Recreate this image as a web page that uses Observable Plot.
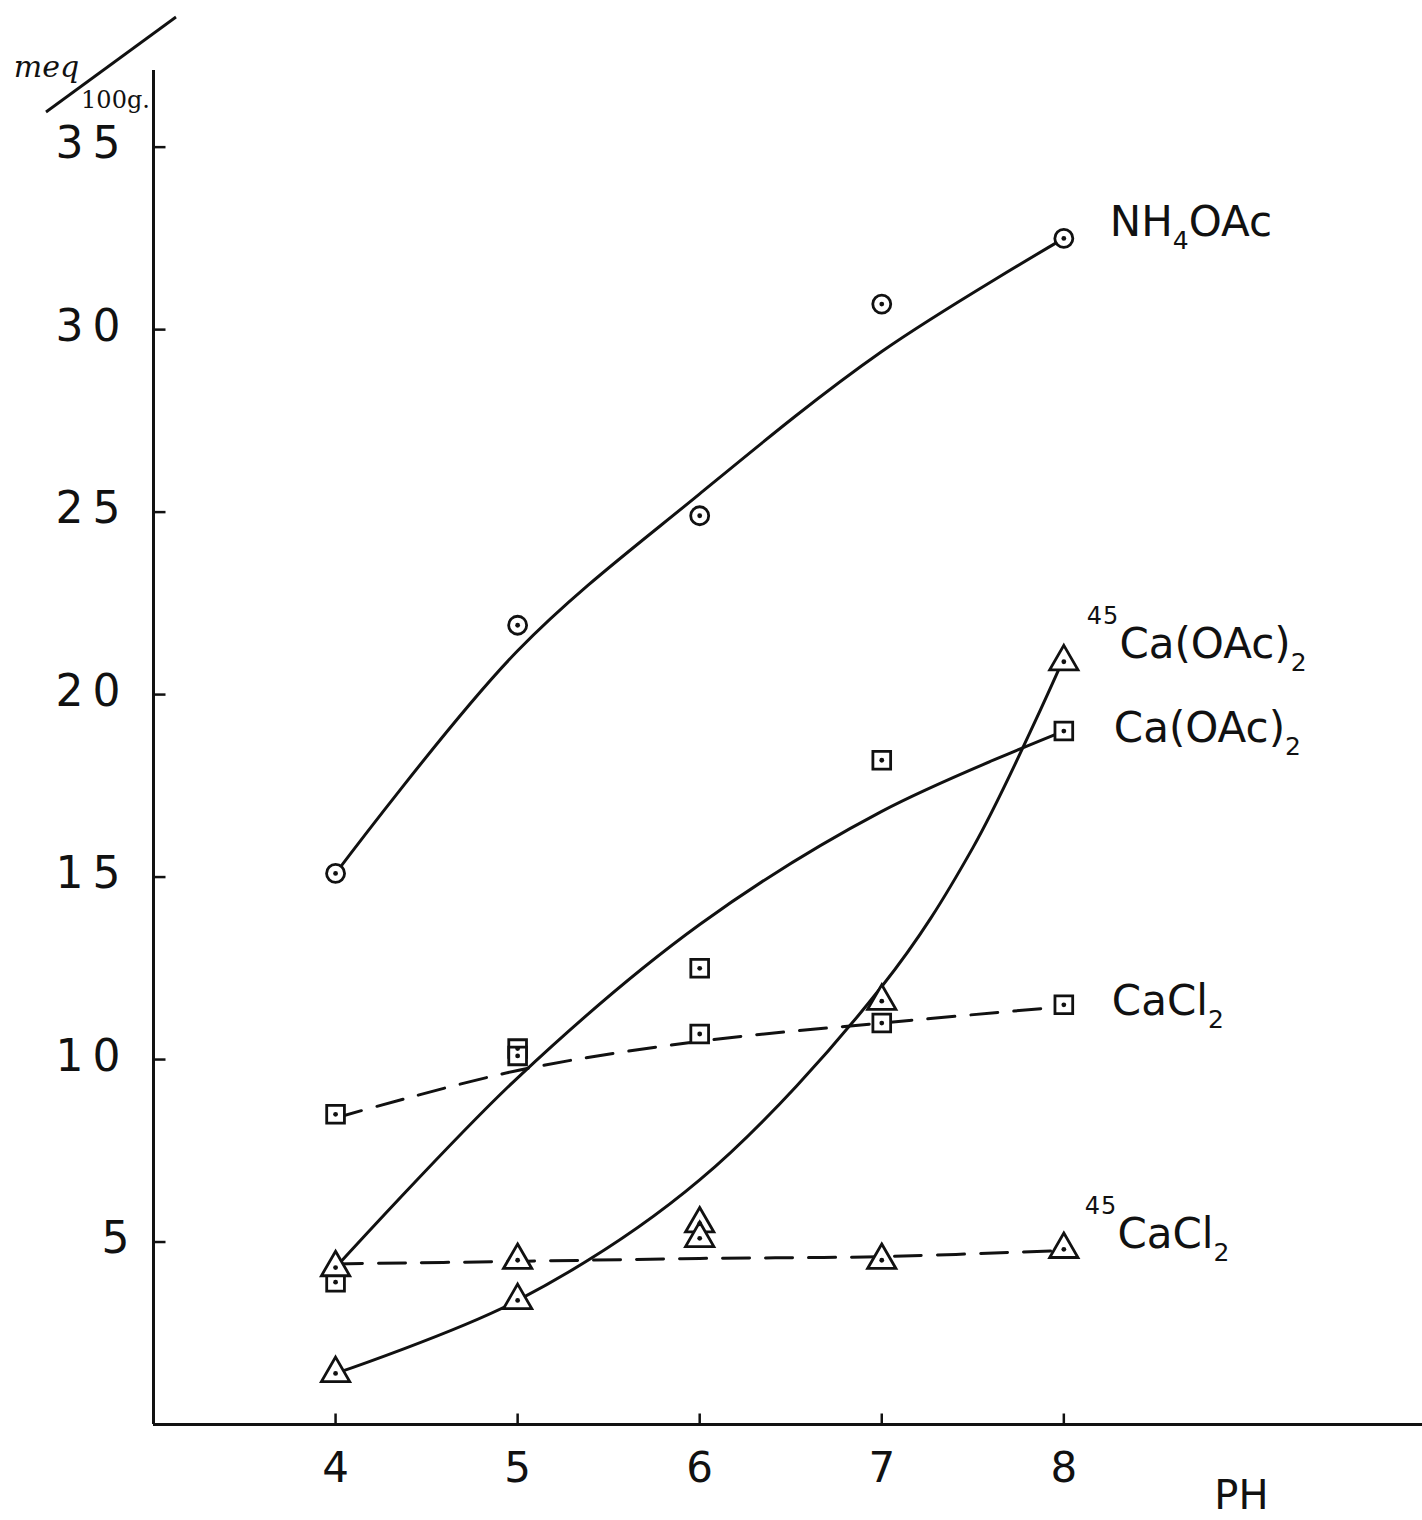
<!DOCTYPE html>
<html>
<head>
<meta charset="utf-8">
<script src="https://cdn.jsdelivr.net/npm/d3@7"></script>
<script src="https://cdn.jsdelivr.net/npm/@observablehq/plot@0.6"></script>
<style>
  html, body { margin: 0; padding: 0; background: #fff; }
  #chart svg { display: block; }
</style>
</head>
<body>
<div id="chart"></div>
<script>
// ---- data ----
const pH = [4, 5, 6, 7, 8];

// measured points
const nh4oac  = [15.1, 21.9, 24.9, 30.7, 32.5];
const caOAc   = [3.9, 10.3, 12.5, 18.2, 19.0];
const cacl2   = [8.5, 10.1, 10.7, 11.0, 11.5];
const ca45OAc = [1.4, 3.4, 5.5, 11.6, 20.9];
const ca45Cl  = [4.3, 4.5, 5.1, 4.5, 4.8];

// hand-drawn fitted curves
const fitPH        = [4, 5, 6, 7, 8];
const nh4oacFit    = [15.1, 21.2, 25.5, 29.4, 32.5];
const caOAcFit     = [4.3, 9.5, 13.7, 16.8, 19.0];
const cacl2Fit     = [8.4, 9.7, 10.5, 11.0, 11.45];
const ca45ClFit    = [4.4, 4.47, 4.55, 4.6, 4.77];
const fitPH45      = [4, 5, 6, 7, 7.5, 8];
const ca45OAcFit   = [1.4, 3.4, 6.7, 12.0, 15.8, 21.0];

const seriesNames  = ["NH₄OAc", "⁴⁵Ca(OAc)₂", "Ca(OAc)₂", "CaCl₂", "⁴⁵CaCl₂"];
const yTicks = [5, 10, 15, 20, 25, 30, 35];
const yTickLabels = ["5", "10", "15", "20", "25", "30", "35"];
const xTicks = [4, 5, 6, 7, 8];
const xTickLabels = ["4", "5", "6", "7", "8"];

// ---- build tables ----
const pts = (vals, s) => pH.map((x, i) => ({x, y: vals[i], s}));
const fit = (xs, vals, s) => xs.map((x, i) => ({x, y: vals[i], s}));

const circlePts = pts(nh4oac, 0);
const squarePts = [...pts(caOAc, 2), ...pts(cacl2, 3)];
const trianglePts = [...pts(ca45OAc, 1), ...pts(ca45Cl, 4)];

const solidFits = [fit(fitPH, nh4oacFit, 0), fit(fitPH45, ca45OAcFit, 1), fit(fitPH, caOAcFit, 2)];
const dashedFits = [fit(fitPH, cacl2Fit, 3), fit(fitPH, ca45ClFit, 4)];

const lastVals = [nh4oac, ca45OAc, caOAc, cacl2, ca45Cl].map(v => v[v.length - 1]);
const labelOffsets = [[46, -16], [23, -17], [50, -3], [48, -3], [21, -15]];
const labels = seriesNames.map((name, i) => ({x: 8, y: lastVals[i], name, dx: labelOffsets[i][0], dy: labelOffsets[i][1]}));

const tickRight = {draw(ctx) { ctx.moveTo(0, 0); ctx.lineTo(12, 0); }};
const tickUp = {draw(ctx) { ctx.moveTo(0, 0); ctx.lineTo(0, -11); }};

const font = "DejaVu Sans";
const W = 1422, H = 1520;
const ink = "#111";

const marks = [
  // axes
  Plot.ruleX([3], {stroke: ink, strokeWidth: 3}),
  Plot.ruleY([0], {stroke: ink, strokeWidth: 3}),
  Plot.dot(yTicks, {x: () => 3, y: d => d, symbol: tickRight, r: 5, stroke: ink, strokeWidth: 2.5}),
  Plot.dot(xTicks, {x: d => d, y: () => 0, symbol: tickUp, r: 5, stroke: ink, strokeWidth: 2.5}),
  Plot.text(yTicks, {x: () => 3, y: d => d, text: (d, i) => yTickLabels[i], textAnchor: "end", dx: -24, dy: -3,
    fontSize: 44, fontFamily: font, fill: ink}),
  Plot.text(xTicks, {x: d => d, y: () => 0, text: (d, i) => xTickLabels[i], dy: 44, fontSize: 42, fontFamily: font, fill: ink}),
  Plot.text(["PH"], {frameAnchor: "bottom-right", text: d => d, textAnchor: "end", lineAnchor: "middle", dx: -154, dy: 72,
    fontSize: 40, fontFamily: font, fill: ink}),
  Plot.text(["meq"], {frameAnchor: "top-left", text: d => d, textAnchor: "middle", lineAnchor: "middle", dx: -107, dy: -3,
    fontSize: 30, fontFamily: "DejaVu Serif", fontStyle: "italic", fill: ink}),
  Plot.text(["100g."], {frameAnchor: "top-left", text: d => d, textAnchor: "middle", lineAnchor: "middle", dx: -38, dy: 30,
    fontSize: 24, fontFamily: "DejaVu Serif", fill: ink}),

  // curves
  ...solidFits.map(d => Plot.line(d, {x: "x", y: "y", curve: "catmull-rom", stroke: ink, strokeWidth: 3})),
  ...dashedFits.map(d => Plot.line(d, {x: "x", y: "y", curve: "catmull-rom", stroke: ink, strokeWidth: 3,
    strokeDasharray: "27,16"})),

  // markers
  Plot.dot(circlePts, {x: "x", y: "y", r: 9, symbol: "circle", fill: "#fff", stroke: ink, strokeWidth: 2.8}),
  Plot.dot(squarePts, {x: "x", y: "y", r: 10, symbol: "square", fill: "#fff", stroke: ink, strokeWidth: 2.8}),
  Plot.dot(trianglePts, {x: "x", y: "y", r: 10.5, symbol: "triangle", fill: "#fff", stroke: ink, strokeWidth: 2.8}),
  Plot.dot([...circlePts, ...squarePts, ...trianglePts], {x: "x", y: "y", r: 2.4, fill: ink}),

  // series labels
  ...labels.map(l => Plot.text([l], {x: "x", y: "y", text: "name", textAnchor: "start", dx: l.dx, dy: l.dy,
    fontSize: 42, fontFamily: font, fill: ink}))
];

const chart = Plot.plot({
  width: W,
  height: H,
  marginLeft: 153,
  marginRight: 0,
  marginTop: 70,
  marginBottom: 96,
  x: {domain: [3, 9.97], axis: null},
  y: {domain: [0, 37.1], axis: null},
  style: {background: "#fff", overflow: "visible"},
  marks
});

// sub/superscripts as real tspans, and the wide lettering of the tick numbers
const SUB = "₀₁₂₃₄₅₆₇₈₉", SUP = "⁰¹²³⁴⁵⁶⁷⁸⁹";
d3.select(chart).selectAll("text").each(function () {
  const el = this, s = el.textContent;
  if (/^\d+$/.test(s)) { el.setAttribute("letter-spacing", s.length > 1 ? "9" : "0"); return; }
  if (!/[₀-₉⁰¹²³⁴-⁹]/.test(s)) return;
  const runs = [];
  for (const ch of s) {
    let kind = "n", c = ch;
    if (SUB.includes(ch)) { kind = "sub"; c = String(SUB.indexOf(ch)); }
    else if (SUP.includes(ch)) { kind = "sup"; c = String(SUP.indexOf(ch)); }
    if (runs.length && runs[runs.length - 1].kind === kind) runs[runs.length - 1].t += c;
    else runs.push({kind, t: c});
  }
  el.textContent = "";
  for (const r of runs) {
    const t = document.createElementNS("http://www.w3.org/2000/svg", "tspan");
    t.textContent = r.t;
    if (r.kind === "sub") { t.setAttribute("font-size", "25"); t.setAttribute("baseline-shift", "-13"); }
    if (r.kind === "sup") { t.setAttribute("font-size", "24"); t.setAttribute("baseline-shift", "34"); t.setAttribute("letter-spacing", "1"); }
    el.appendChild(t);
  }
});

// decorative slash of the unit label "meq / 100g."
d3.select(chart).append("line")
  .attr("x1", 46).attr("y1", 112).attr("x2", 176).attr("y2", 17)
  .attr("stroke", ink).attr("stroke-width", 2.8);

document.getElementById("chart").appendChild(chart);
</script>
</body>
</html>
